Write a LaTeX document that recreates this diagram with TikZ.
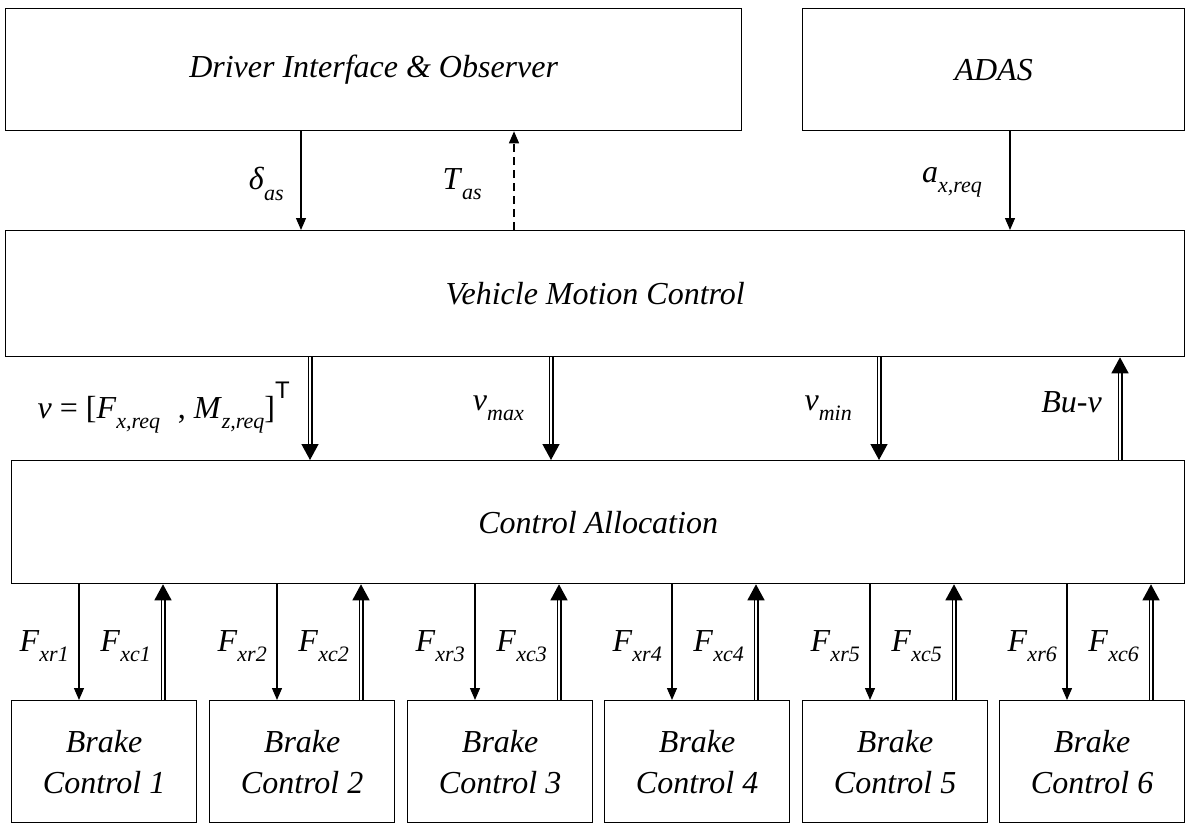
\documentclass[tikz,border=0pt]{standalone}
\usepackage{fontspec}
\setmainfont{Liberation Serif}
\setsansfont{Liberation Sans}
\usetikzlibrary{arrows.meta}
\newcommand{\lbl}[2]{\textit{#1}\raisebox{-0.32em}{\fontsize{22}{22}\selectfont\itshape #2}}
\begin{document}
\begin{tikzpicture}[x=1pt,y=-1pt,
  box/.style={draw, line width=1.3pt, anchor=north west, inner sep=0pt,
    font=\fontsize{32}{41}\selectfont\itshape, align=center},
  sarrow/.style={line width=1.3pt, -{Triangle[length=12pt,width=10pt]}},
  darrow/.style={double, double distance=2.2pt, line width=1.4pt,
    -{Triangle[length=16pt,width=17pt]}},
  lab/.style={anchor=east, font=\fontsize{32}{36}\selectfont, inner sep=0pt}]
\useasboundingbox (0,0) rectangle (1186,824);
\fill[white] (0,0) rectangle (1186,824);
% main boxes
\node[box, minimum width=736pt, minimum height=122pt] (drv) at (5,8) {Driver Interface \& Observer};
\node[box, minimum width=382pt, minimum height=122pt] (adas) at (802,8) {ADAS};
\node[box, minimum width=1179pt, minimum height=126pt] (vmc) at (5,230) {Vehicle Motion Control};
\node[box, minimum width=1173pt, minimum height=123pt] (ca) at (11,460) {Control Allocation};
% x positions
\coordinate (xd) at (301,0);
\coordinate (xt) at (514,0);
\coordinate (xa) at (1010,0);
\coordinate (xv) at (310,0);
\coordinate (xmax) at (551,0);
\coordinate (xmin) at (879,0);
\coordinate (xbu) at (1120,0);
% top connectors
\draw[sarrow] (drv.south -| xd) -- (vmc.north -| xd);
\draw[sarrow, dash pattern=on 8pt off 5pt] (vmc.north -| xt) -- (drv.south -| xt);
\draw[sarrow] (adas.south -| xa) -- (vmc.north -| xa);
\node[lab] (ld) at (284,184) {\lbl{δ}{as}};
\node[lab] (lt) at (482,184) {\lbl{T}{as}};
\node[lab] (la) at (982,182) {\lbl{a}{x,req}};
% middle connectors
\draw[darrow] (vmc.south -| xv) -- (ca.north -| xv);
\draw[darrow] (vmc.south -| xmax) -- (ca.north -| xmax);
\draw[darrow] (vmc.south -| xmin) -- (ca.north -| xmin);
\draw[darrow] (ca.north -| xbu) -- (vmc.south -| xbu);
\node[lab] (lv) at (290,408) {\textit{v} = [\lbl{F}{x,req}\hspace{0.55em}, \lbl{M}{z,req}]\raisebox{0.62em}{\fontsize{24}{24}\selectfont\sffamily T}};
\node[lab] (lmax) at (524,408) {\lbl{v}{max}};
\node[lab] (lmin) at (852,408) {\lbl{v}{min}};
\node[lab] (lbu) at (1102,402) {\textit{Bu-v}};
% brake controls
\foreach \i/\l in {1/11,2/209,3/407,4/604,5/802,6/999} {
  \node[box, minimum width=185pt, minimum height=122pt] (b\i) at (\l,700) {Brake\\Control \i};
  \coordinate (r\i) at (\l+68,0);
  \coordinate (c\i) at (\l+152,0);
  \draw[sarrow] (ca.south -| r\i) -- (b\i.north -| r\i);
  \draw[darrow] (b\i.north -| c\i) -- (ca.south -| c\i);
  \node[lab] (fr\i) at (\l+58,646) {\lbl{F}{xr\i}};
  \node[lab] (fc\i) at (\l+140,646) {\lbl{F}{xc\i}};
}
\end{tikzpicture}
\end{document}
